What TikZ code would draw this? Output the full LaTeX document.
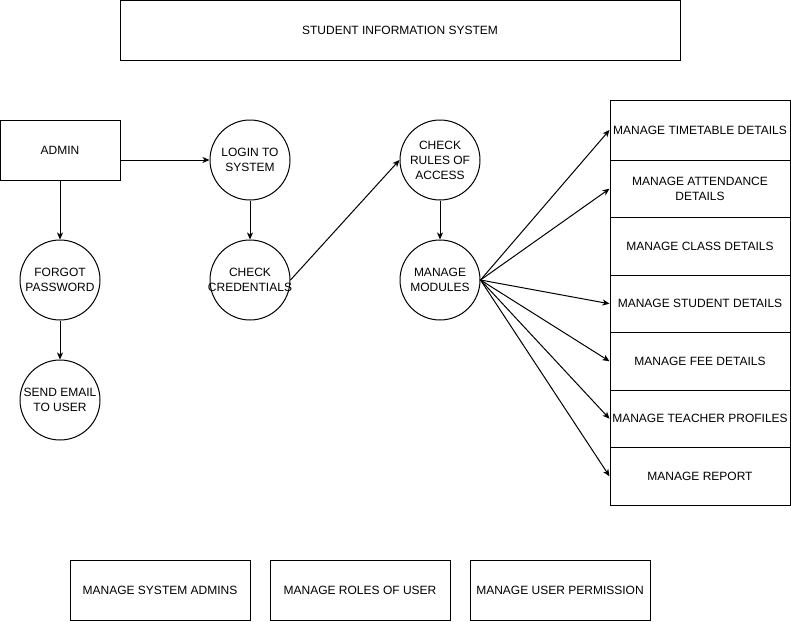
\documentclass[tikz,border=0pt]{standalone}
\usepackage{fontspec}
\setmainfont{Liberation Sans}
\usetikzlibrary{arrows.meta}

\begin{document}
\begin{tikzpicture}[
    x = 1pt, y = -1pt,
    every node/.style={font=\fontsize{12pt}{15pt}\selectfont},
      box/.style={draw, rectangle, minimum width=120pt, minimum height=60pt, inner sep=0pt, align=center},
      process/.style={draw, circle, minimum size=80pt, inner xsep=-8pt, inner ysep=0pt, align=center},
      module/.style={draw, rectangle, minimum width=180pt, minimum height=57.5pt, inner sep=0pt, align=center},
      arrow/.style={-{Stealth[length=7pt, width=6pt, inset=2pt]}, line width=1pt, color=black}
  ]
      \useasboundingbox (0,0) rectangle (791,621);

      % Title
      \node (title) at (400, 30) [box, minimum width=560pt, line width=1pt] {STUDENT INFORMATION SYSTEM};

      % Admin
      \node (admin) at (60, 150) [box, line width=1pt] {ADMIN};

      % Processes
      \node (login) at (250, 160) [process, line width=1pt] {LOGIN TO\\SYSTEM};
      \node (credentials) at (250, 280) [process, line width=1pt] {CHECK\\CREDENTIALS};
      \node (forgot) at (60, 280) [process, line width=1pt] {FORGOT\\PASSWORD};
      \node (email) at (60, 400) [process, line width=1pt] {SEND EMAIL\\TO USER};
      \node (rules) at (440, 160) [process, line width=1pt] {CHECK\\RULES OF\\ACCESS};
      \node (modules) at (440, 280) [process, line width=1pt] {MANAGE\\MODULES};

      % Modules
      \node (timetable) at (700, 130) [module, minimum height=60pt, line width=1pt] {MANAGE TIMETABLE DETAILS};
      \node (attendance) at (700, 188.75) [module, line width=1pt] {MANAGE ATTENDANCE\\DETAILS};
      \node (class) at (700, 246.25) [module, line width=1pt] {MANAGE CLASS DETAILS};
      \node (student) at (700, 303.75) [module, line width=1pt] {MANAGE STUDENT DETAILS};
      \node (fee) at (700, 361.25) [module, line width=1pt] {MANAGE FEE DETAILS};
      \node (teacher) at (700, 418.75) [module, line width=1pt] {MANAGE TEACHER PROFILES};
      \node (report) at (700, 476.25) [module, line width=1pt] {MANAGE REPORT};

      % Other functions
      \node (sysadmins) at (160, 590) [box, minimum width=180pt, line width=1pt] {MANAGE SYSTEM ADMINS};
      \node (roles) at (360, 590) [box, minimum width=180pt, line width=1pt] {MANAGE ROLES OF USER};
      \node (permission) at (560, 590) [box, minimum width=180pt, line width=1pt] {MANAGE USER PERMISSION};

      % Arrows
      \draw[arrow] (admin.east |- login.west) -- (login.west);
      \draw[arrow] (admin) -- (forgot);
      \draw[arrow] (forgot) -- (email);
      \draw[arrow] (login) -- (credentials);
      \draw[arrow] (credentials.east) -- (rules.west);
      \draw[arrow] (rules) -- (modules);
      \draw[arrow] (modules.east) -- (timetable.west);
      \draw[arrow] (modules.east) -- (attendance.west);
      \draw[arrow] (modules.east) -- (student.west);
      \draw[arrow] (modules.east) -- (fee.west);
      \draw[arrow] (modules.east) -- (teacher.west);
      \draw[arrow] (modules.east) -- (report.west);
  \end{tikzpicture}
\end{document}
